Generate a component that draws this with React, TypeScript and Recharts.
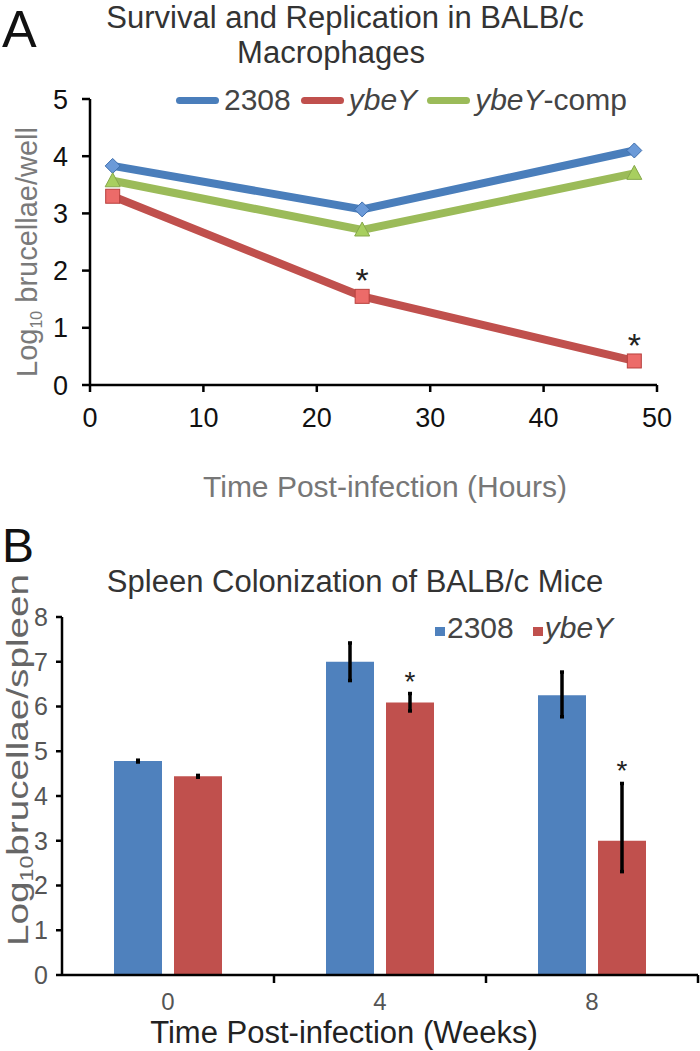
import React from 'react';
import {
  LineChart,
  Line,
  XAxis,
  YAxis,
  BarChart,
  Bar,
  ErrorBar,
  Legend,
  LabelList,
} from 'recharts';

const SANS = "'Liberation Sans', Arial, sans-serif";

// ---------- Panel A data ----------
const hours = [2, 24, 48];
const wt2308 = [3.83, 3.07, 4.1];
const ybeY = [3.3, 1.55, 0.42];
const ybeYComp = [3.57, 2.71, 3.7];
const ybeYSig = ['', '*', '*'];
const hourTicks = [0, 10, 20, 30, 40, 50];
const wellTicks = [0, 1, 2, 3, 4, 5];

// ---------- Panel B data ----------
const weeks = ['0', '4', '8'];
const spleen2308 = [4.78, 7.0, 6.25];
const spleen2308Err = [
  [0.02, 0.02],
  [0.42, 0.42],
  [0.48, 0.52],
];
const spleenYbeY = [4.44, 6.09, 3.0];
const spleenYbeYErr = [
  [0.02, 0.02],
  [0.19, 0.2],
  [0.69, 1.28],
];
const spleenSig = ['', '*', '*'];
const spleenTicks = [0, 1, 2, 3, 4, 5, 6, 7, 8];

const BLUE = '#4a7ebb';
const RED = '#c0504d';
const GREEN = '#9bbb59';
const BAR_BLUE = '#4f81bd';
const BAR_RED = '#c0504d';

const lineData = hours.map((h, i) => ({
  h,
  wt: wt2308[i],
  ybeY: ybeY[i],
  comp: ybeYComp[i],
  sig: ybeYSig[i],
}));

const barData = weeks.map((w, i) => ({
  week: w,
  s2308: spleen2308[i],
  e2308: spleen2308Err[i],
  sYbeY: spleenYbeY[i],
  eYbeY: spleenYbeYErr[i],
  sig: spleenSig[i],
}));

// layout constants for chart B
const B_WIDTH = 700;
const B_LEFT = 62;
const B_RIGHT = 2;
const B_BAND = (B_WIDTH - B_LEFT - B_RIGHT) / weeks.length;

const renderName = (name: string) =>
  name.startsWith('ybeY') ? (
    <span>
      <i>ybeY</i>
      {name.slice(4)}
    </span>
  ) : (
    <span>{name}</span>
  );

const Diamond = (p: any) => {
  const { cx, cy, index } = p;
  if (cx == null || cy == null) return <g key={`dm-${index}`} />;
  const r = 7.5;
  return (
    <path
      key={`dm-${index}`}
      d={`M${cx},${cy - r}L${cx + r},${cy}L${cx},${cy + r}L${cx - r},${cy}Z`}
      fill="#6b9ad8"
      stroke="#3f6fae"
      strokeWidth={1}
    />
  );
};

const Square = (p: any) => {
  const { cx, cy, index } = p;
  if (cx == null || cy == null) return <g key={`sq-${index}`} />;
  const r = 7;
  return (
    <rect
      key={`sq-${index}`}
      x={cx - r}
      y={cy - r}
      width={2 * r}
      height={2 * r}
      fill="#ec6b69"
      stroke="#b8403d"
      strokeWidth={1}
    />
  );
};

const Triangle = (p: any) => {
  const { cx, cy, index } = p;
  if (cx == null || cy == null) return <g key={`tr-${index}`} />;
  return (
    <path
      key={`tr-${index}`}
      d={`M${cx},${cy - 8}L${cx + 7.5},${cy + 6}L${cx - 7.5},${cy + 6}Z`}
      fill="#a8cf5f"
      stroke="#86a84a"
      strokeWidth={1}
    />
  );
};

const LineStar = (p: any) => {
  const vb = p.viewBox || {};
  const x = p.x != null ? p.x : vb.x;
  const y = p.y != null ? p.y : vb.y;
  if (!p.value) return null;
  return (
    <text
      x={x}
      y={y - 4}
      textAnchor="middle"
      fontSize={34}
      fontFamily={SANS}
      fill="#222"
    >
      {p.value}
    </text>
  );
};

const BarStar = (p: any) => {
  const vb = p.viewBox || p;
  const { x, y, width, height } = vb;
  const index = p.index;
  if (!p.value) return null;
  const v = spleenYbeY[index];
  const pxPerUnit = height / v;
  const top = y - spleenYbeYErr[index][1] * pxPerUnit;
  return (
    <text
      x={x + width / 2}
      y={top - 3}
      textAnchor="middle"
      fontSize={28}
      fontFamily={SANS}
      fill="#222"
    >
      {p.value}
    </text>
  );
};

const LegendA = (props: any) => {
  const payload = props.payload || [];
  return (
    <div
      style={{
        display: 'flex',
        alignItems: 'center',
        fontFamily: SANS,
        fontSize: 30,
        color: '#444',
        lineHeight: '34px',
        whiteSpace: 'nowrap',
      }}
    >
      {payload.map((e: any, i: number) => (
        <div
          key={i}
          style={{ display: 'flex', alignItems: 'center', marginRight: 10 }}
        >
          <span
            style={{
              display: 'inline-block',
              width: 43,
              height: 7,
              borderRadius: 3.5,
              background: e.color,
              marginRight: 5,
            }}
          />
          {renderName(String(e.value))}
        </div>
      ))}
    </div>
  );
};

const LegendB = (props: any) => {
  const payload = props.payload || [];
  return (
    <div
      style={{
        display: 'flex',
        alignItems: 'center',
        fontFamily: SANS,
        fontSize: 30,
        color: '#444',
        lineHeight: '34px',
        whiteSpace: 'nowrap',
      }}
    >
      {payload.map((e: any, i: number) => (
        <div
          key={i}
          style={{ display: 'flex', alignItems: 'center', marginRight: 19 }}
        >
          <span
            style={{
              display: 'inline-block',
              width: 10,
              height: 9,
              background: e.color,
              marginRight: 2,
              marginTop: 6,
            }}
          />
          {renderName(String(e.value))}
        </div>
      ))}
    </div>
  );
};

const WeekTick = (p: any) => {
  const { x, y, payload } = p;
  const bx = x + B_BAND / 2;
  return (
    <g>
      <line x1={bx} y1={y - 8} x2={bx} y2={y} stroke="#000" strokeWidth={2.5} />
      <text
        x={x}
        y={y + 27}
        textAnchor="middle"
        fontSize={24}
        fontFamily={SANS}
        fill="#555"
      >
        {payload.value}
      </text>
    </g>
  );
};

export default function App() {
  return (
    <div
      style={{
        position: 'absolute',
        left: 0,
        top: 0,
        width: 700,
        height: 1051,
        background: '#fff',
        overflow: 'hidden',
      }}
    >
      <div style={{ position: 'absolute', left: 0, top: 0 }}>
        <LineChart
          width={700}
          height={520}
          data={lineData}
          margin={{ top: 99, right: 43, bottom: 75, left: 30 }}
        >
          <XAxis
            dataKey="h"
            type="number"
            domain={[0, 50]}
            ticks={hourTicks}
            interval={0}
            height={60}
            tickSize={7}
            tickMargin={16}
            axisLine={{ stroke: '#000', strokeWidth: 2.5 }}
            tickLine={{ stroke: '#000', strokeWidth: 2.5 }}
            tick={{ fill: '#111', fontSize: 27, fontFamily: SANS }}
          />
          <YAxis
            type="number"
            domain={[0, 5]}
            ticks={wellTicks}
            interval={0}
            width={60}
            tickSize={8}
            tickMargin={14}
            axisLine={{ stroke: '#000', strokeWidth: 2.5 }}
            tickLine={{ stroke: '#000', strokeWidth: 2.5 }}
            tick={{ fill: '#111', fontSize: 27, fontFamily: SANS }}
          />
          <Legend
            layout="horizontal"
            verticalAlign="middle"
            align="center"
            content={LegendA}
            wrapperStyle={{ top: 83, left: 176, width: 'auto' }}
          />
          <Line
            dataKey="wt"
            name="2308"
            stroke={BLUE}
            strokeWidth={8}
            dot={Diamond}
            activeDot={false}
            isAnimationActive={false}
          />
          <Line
            dataKey="ybeY"
            name="ybeY"
            stroke={RED}
            strokeWidth={8}
            dot={Square}
            activeDot={false}
            isAnimationActive={false}
          >
            <LabelList dataKey="sig" content={LineStar} />
          </Line>
          <Line
            dataKey="comp"
            name="ybeY-comp"
            stroke={GREEN}
            strokeWidth={8}
            dot={Triangle}
            activeDot={false}
            isAnimationActive={false}
          />
        </LineChart>
      </div>

      <div style={{ position: 'absolute', left: 0, top: 520 }}>
        <BarChart
          width={B_WIDTH}
          height={531}
          data={barData}
          margin={{ top: 97, right: B_RIGHT, bottom: 36, left: 12 }}
          barSize={48}
          barGap={12}
        >
          <XAxis
            dataKey="week"
            height={40}
            tickSize={8}
            tickMargin={0}
            interval={0}
            axisLine={{ stroke: '#000', strokeWidth: 2.5 }}
            tickLine={false}
            tick={WeekTick}
          />
          <YAxis
            type="number"
            domain={[0, 8]}
            ticks={spleenTicks}
            interval={0}
            width={50}
            tickSize={6}
            tickMargin={8}
            axisLine={{ stroke: '#000', strokeWidth: 2.5 }}
            tickLine={{ stroke: '#000', strokeWidth: 2.5 }}
            tick={{ fill: '#555', fontSize: 25, fontFamily: SANS }}
          />
          <Legend
            layout="horizontal"
            verticalAlign="middle"
            align="center"
            content={LegendB}
            wrapperStyle={{ top: 91, left: 435, width: 'auto' }}
          />
          <Bar dataKey="s2308" name="2308" fill={BAR_BLUE} isAnimationActive={false}>
            <ErrorBar dataKey="e2308" width={2} strokeWidth={3.5} stroke="#000" direction="y" />
          </Bar>
          <Bar dataKey="sYbeY" name="ybeY" fill={BAR_RED} isAnimationActive={false}>
            <ErrorBar dataKey="eYbeY" width={2} strokeWidth={3.5} stroke="#000" direction="y" />
            <LabelList dataKey="sig" content={BarStar} />
          </Bar>
        </BarChart>
      </div>

      <svg
        width={700}
        height={1051}
        style={{ position: 'absolute', left: 0, top: 0, pointerEvents: 'none' }}
      >
        <g fontFamily={SANS}>
          <text x={2} y={47} fontSize={52} fill="#111">A</text>
          <text x={345} y={28} fontSize={31} fill="#333" textAnchor="middle">
            Survival and Replication in BALB/c
          </text>
          <text x={331} y={63} fontSize={31} fill="#333" textAnchor="middle">
            Macrophages
          </text>
          <text
            x={37}
            y={252}
            fontSize={29}
            fill="#7a7a7a"
            textAnchor="middle"
            transform="rotate(-90, 37, 252)"
          >
            Log
            <tspan fontSize={16} dy={5}>10</tspan>
            <tspan dy={-5}> brucellae/well</tspan>
          </text>
          <text x={385} y={497} fontSize={30} fill="#777" textAnchor="middle">
            Time Post-infection (Hours)
          </text>

          <text x={2} y={562} fontSize={48} fill="#111">B</text>
          <text x={355} y={592} fontSize={31} fill="#333" textAnchor="middle">
            Spleen Colonization of BALB/c Mice
          </text>
          <text
            x={28}
            y={760}
            fontSize={30}
            fill="#666"
            textAnchor="middle"
            textLength={372}
            lengthAdjust="spacingAndGlyphs"
            transform="rotate(-90, 28, 760)"
          >
            Log
            <tspan fontSize={18} dy={5}>10</tspan>
            <tspan dy={-5}>brucellae/spleen</tspan>
          </text>
          <text x={344} y={1043} fontSize={31} fill="#222" textAnchor="middle">
            Time Post-infection (Weeks)
          </text>
        </g>
      </svg>
    </div>
  );
}
